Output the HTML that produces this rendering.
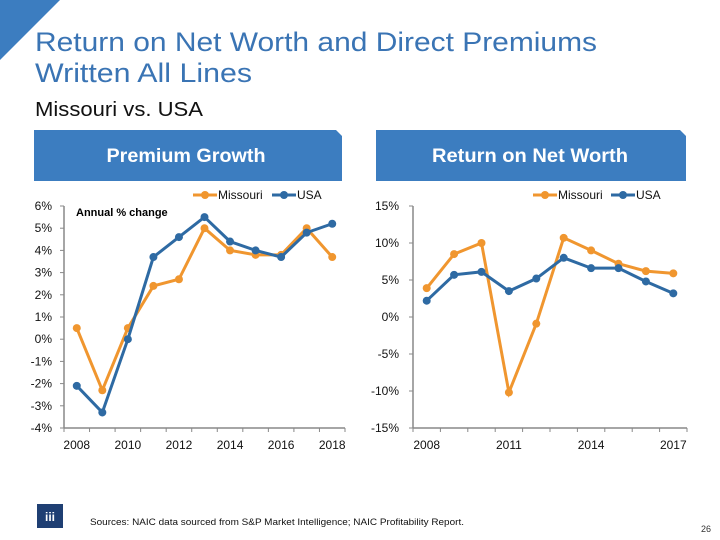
<!DOCTYPE html>
<html><head><meta charset="utf-8"><style>
body{margin:0;width:720px;height:540px;background:#fff;overflow:hidden;font-family:"Liberation Sans",sans-serif;position:relative}
</style></head><body>
<svg width="720" height="540" style="position:absolute;left:0;top:0">
<polygon points="0,0 60,0 0,60" fill="#3C7DC0"/>
<text x="35" y="51" font-size="27" fill="#3A74B4" font-family="Liberation Sans" textLength="562" lengthAdjust="spacingAndGlyphs">Return on Net Worth and Direct Premiums</text>
<text x="35" y="82" font-size="27" fill="#3A74B4" font-family="Liberation Sans" textLength="217" lengthAdjust="spacingAndGlyphs">Written All Lines</text>
<text x="35" y="116" font-size="20" fill="#111" font-family="Liberation Sans" textLength="168" lengthAdjust="spacingAndGlyphs">Missouri vs. USA</text>
<polygon points="34,130 336,130 342,136 342,181 34,181" fill="#3C7DC0"/>
<text x="186" y="162" font-size="19" font-weight="bold" fill="#fff" text-anchor="middle" font-family="Liberation Sans" textLength="159" lengthAdjust="spacingAndGlyphs">Premium Growth</text>
<polygon points="376,130 680,130 686,136 686,181 376,181" fill="#3C7DC0"/>
<text x="530" y="162" font-size="19" font-weight="bold" fill="#fff" text-anchor="middle" font-family="Liberation Sans" textLength="196" lengthAdjust="spacingAndGlyphs">Return on Net Worth</text>
<g id="c1"></g><g id="c2"></g>
<rect x="37" y="504" width="26" height="24" fill="#1F3F73"/>
<text x="50" y="521" font-size="12" font-weight="bold" fill="#fff" text-anchor="middle" font-family="Liberation Sans">iii</text>
<text x="90" y="525" font-size="9" fill="#111" font-family="Liberation Sans" textLength="374" lengthAdjust="spacingAndGlyphs">Sources: NAIC data sourced from S&amp;P Market Intelligence; NAIC Profitability Report.</text>
<text x="711" y="532" font-size="9" fill="#333" text-anchor="end" font-family="Liberation Sans">26</text>
</svg>
<script>
const leftYears=["2008","2009","2010","2011","2012","2013","2014","2015","2016","2017","2018"];
const leftMissouri=[0.5,-2.3,0.5,2.4,2.7,5.0,4.0,3.8,3.8,5.0,3.7];
const leftUSA=[-2.1,-3.3,0.0,3.7,4.6,5.5,4.4,4.0,3.7,4.8,5.2];
const leftTicks=[6,5,4,3,2,1,0,-1,-2,-3,-4];
const leftXLabels=["2008","2010","2012","2014","2016","2018"];
const rightYears=["2008","2009","2010","2011","2012","2013","2014","2015","2016","2017"];
const rightMissouri=[3.9,8.5,10.0,-10.2,-0.9,10.7,9.0,7.2,6.2,5.9];
const rightUSA=[2.2,5.7,6.1,3.5,5.2,8.0,6.6,6.6,4.8,3.2];
const rightTicks=[15,10,5,0,-5,-10,-15];
const rightXLabels=["2008","2011","2014","2017"];
const NS="http://www.w3.org/2000/svg";
function mk(p,tag,a){const e=document.createElementNS(NS,tag);for(const k in a)e.setAttribute(k,a[k]);p.appendChild(e);return e;}
function chart(gid,cfg){
 const g=document.getElementById(gid);
 const n=cfg.years.length,cw=(cfg.x1-cfg.x0)/n;
 const X=i=>cfg.x0+(i+0.5)*cw;
 const Y=v=>cfg.yt+(cfg.ymax-v)/(cfg.ymax-cfg.ymin)*(cfg.yb-cfg.yt);
 let ax=mk(g,'line',{x1:cfg.x0,y1:cfg.yt,x2:cfg.x0,y2:cfg.yb,stroke:'#888','stroke-width':1.5});
 
 let bx=mk(g,'line',{x1:cfg.x0,y1:cfg.yb,x2:cfg.x1,y2:cfg.yb,stroke:'#888','stroke-width':1.5});
 
 cfg.ticks.forEach(v=>{
  mk(g,'line',{x1:cfg.x0-4,y1:Y(v),x2:cfg.x0,y2:Y(v),stroke:'#888'});
  const t=mk(g,'text',{x:cfg.tx,y:Y(v)+4,'font-size':12,'text-anchor':'end','font-family':'Liberation Sans',fill:'#111'});
  t.textContent=v+'%';
  
  
 });
 for(let i=0;i<=n;i++)mk(g,'line',{x1:cfg.x0+i*cw,y1:cfg.yb,x2:cfg.x0+i*cw,y2:cfg.yb+4,stroke:'#888'});
 cfg.years.forEach((y,i)=>{if(cfg.xl.includes(y)){
  const t=mk(g,'text',{x:X(i),y:cfg.yb+21,'font-size':12,'text-anchor':'middle','font-family':'Liberation Sans',fill:'#111'});
  t.textContent=y;
  
  
 }});
 [[cfg.mo,'#F0962F','missouri'],[cfg.us,'#2E6AA3','usa']].forEach(([d,c,nm])=>{
  const l=mk(g,'polyline',{points:d.map((v,i)=>X(i)+','+Y(v)).join(' '),fill:'none',stroke:c,'stroke-width':3});
  
  
  d.forEach((v,i)=>{const p=mk(g,'circle',{cx:X(i),cy:Y(v),r:4,fill:c});
   
   });
 });
 const lx=cfg.lx;
 [[0,'#F0962F','Missouri'],[cfg.lgap,'#2E6AA3','USA']].forEach(([o,c,lab])=>{
  mk(g,'line',{x1:lx+o,y1:195,x2:lx+o+24,y2:195,stroke:c,'stroke-width':3});
  mk(g,'circle',{cx:lx+o+12,cy:195,r:4,fill:c});
  const t=mk(g,'text',{x:lx+o+25,y:199,'font-size':12,'font-family':'Liberation Sans',fill:'#111'});
  t.textContent=lab;
  
  
 });
}
chart('c1',{p:'premium',x0:64,x1:345,yt:206,yb:428,ymax:6,ymin:-4,years:leftYears,mo:leftMissouri,us:leftUSA,ticks:leftTicks,xl:leftXLabels,tx:52,lx:193,lgap:79});
chart('c2',{p:'rnw',x0:413,x1:687,yt:206,yb:428,ymax:15,ymin:-15,years:rightYears,mo:rightMissouri,us:rightUSA,ticks:rightTicks,xl:rightXLabels,tx:399,lx:533,lgap:78});
const note=document.createElementNS(NS,'text');
note.setAttribute('x',76);note.setAttribute('y',216);note.setAttribute('font-size',11);note.setAttribute('font-weight','bold');note.setAttribute('font-family','Liberation Sans');
note.textContent='Annual % change';


document.getElementById('c1').appendChild(note);
</script>
</body></html>
